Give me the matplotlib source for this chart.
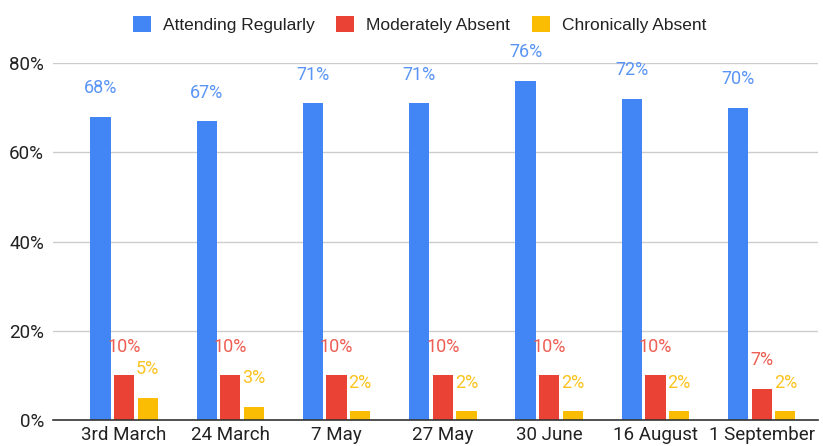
import numpy as np
import matplotlib
matplotlib.use("Agg")
import matplotlib.pyplot as plt
from matplotlib.ticker import FuncFormatter

plt.rcParams['font.family'] = ['Roboto', 'DejaVu Sans']

# data
dates = ['3rd March', '24 March', '7 May', '27 May', '30 June', '16 August', '1 September']
attending = [68, 67, 71, 71, 76, 72, 70]
moderate = [10, 10, 10, 10, 10, 10, 7]
chronic = [5, 3, 2, 2, 2, 2, 2]
series_names = ['Attending Regularly', 'Moderately Absent', 'Chronically Absent']

bar_colors = ['#4285F4', '#EA4335', '#FBBC04']
label_colors = ['#5A95F5', '#EE5F54', '#FBC31F']

fig = plt.figure(figsize=(8.23, 4.46), dpi=100)
ax = fig.add_axes([0.0644, 0.0583, 0.9296, 0.8004])

x = np.arange(len(dates))
width = 0.19
offset = 0.222

for k, vals in enumerate([attending, moderate, chronic]):
    pos = x + (k - 1) * offset
    ax.bar(pos, vals, width, color=bar_colors[k], label=series_names[k], zorder=3)
    for p, v in zip(pos, vals):
        ax.annotate(f"{v}%", (p, v), xytext=(0, 20.5), textcoords='offset points',
                    ha='center', va='center', fontsize=13, color=label_colors[k], zorder=4)

ax.set_xlim(-0.668, 6.53)
ax.set_ylim(0, 80)
ax.set_yticks([0, 20, 40, 60, 80])
ax.yaxis.set_major_formatter(FuncFormatter(lambda v, _: f"{int(v)}%"))
ax.set_xticks(x)
ax.set_xticklabels(dates)
ax.tick_params(axis='both', length=0, labelsize=13.5, colors='#222222')
ax.tick_params(axis='x', pad=4)
ax.tick_params(axis='y', pad=6.5)

ax.grid(axis='y', color='#cccccc', linewidth=1, zorder=0)
for s in ['top', 'right', 'left']:
    ax.spines[s].set_visible(False)
ax.spines['bottom'].set_color('#333333')
ax.spines['bottom'].set_linewidth(1.2)
ax.spines['bottom'].set_zorder(5)

fig.legend(loc='center', bbox_to_anchor=(0.51, 0.946), ncol=3, frameon=False,
           prop={'family': ['Liberation Sans', 'DejaVu Sans'], 'size': 12.5},
           handlelength=1.03, handleheight=1.03, handletextpad=0.7,
           columnspacing=1.26, labelcolor='#222222')

fig.savefig('out.png', dpi=100)
